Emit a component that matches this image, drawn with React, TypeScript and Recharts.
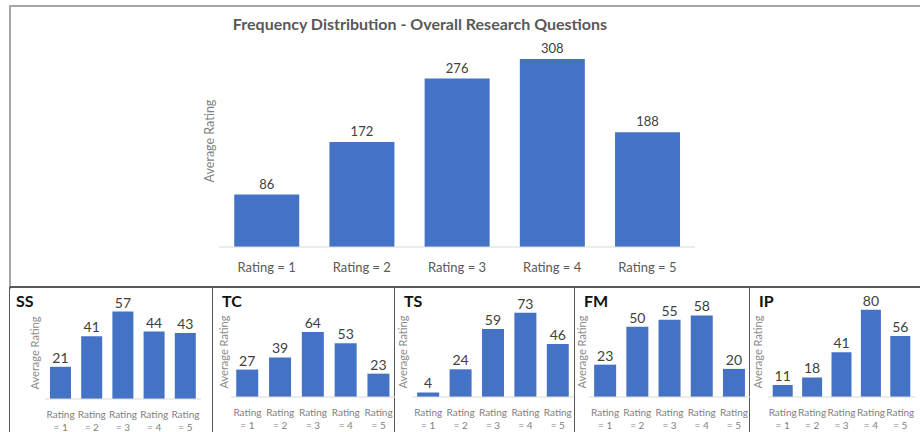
import { BarChart, Bar, XAxis, YAxis, LabelList } from 'recharts';

const RATINGS = ['Rating = 1', 'Rating = 2', 'Rating = 3', 'Rating = 4', 'Rating = 5'];
const OVERALL = [86, 172, 276, 308, 188];

const SS = [21, 41, 57, 44, 43];
const TC = [27, 39, 64, 53, 23];
const TS = [4, 24, 59, 73, 46];
const FM = [23, 50, 55, 58, 20];
const IP = [11, 18, 41, 80, 56];

const BLUE = '#4472C4';
const FONT = 'Lato, "Open Sans", sans-serif';

const toRows = (vals: number[]) => RATINGS.map((name, i) => ({ name, value: vals[i] }));

// panel boxes for the small charts (abs x positions)
const PANELS = [
  { title: 'SS', values: SS, left: 10, right: 213, labelX: 25, plotStart: 35, plotEnd: 191, axisY: 112, max: 60 },
  { title: 'TC', values: TC, left: 213, right: 395, labelX: 11, plotStart: 18, plotEnd: 182, axisY: 110, max: 88.7 },
  { title: 'TS', values: TS, left: 395, right: 575, labelX: 8, plotStart: 17, plotEnd: 179, axisY: 110, max: 78 },
  { title: 'FM', values: FM, left: 575, right: 750, labelX: 7, plotStart: 14, plotEnd: 175, axisY: 110, max: 64 },
  { title: 'IP', values: IP, left: 750, right: 920, labelX: 8, plotStart: 18, plotEnd: 165, axisY: 110, max: 82.6 },
];

function TwoLineTick(props: any) {
  const { x, y, payload } = props;
  const [a, b] = String(payload.value).split(' = ');
  return (
    <g transform={`translate(${x},${y})`}>
      <text x={0} y={11} textAnchor="middle" fontSize={10} fill="#7f7f7f" fontFamily={FONT}>{a}</text>
      <text x={0} y={24} textAnchor="middle" fontSize={10} fill="#7f7f7f" fontFamily={FONT}>= {b}</text>
    </g>
  );
}

function SmallChart({ p }: { p: typeof PANELS[number] }) {
  const w = p.right - p.left;
  const h = 145;
  const yW = 2 * (p.plotStart - p.labelX);
  return (
    <div style={{ position: 'absolute', left: p.left, top: 287, width: w, height: h }}>
      <div style={{ position: 'absolute', left: p.title === 'SS' ? 6 : 9, top: 4, fontFamily: FONT, fontWeight: 700, fontSize: 16, color: '#111' }}>
        {p.title}
      </div>
      <BarChart width={w} height={h} data={toRows(p.values)} barCategoryGap="16%"
        margin={{ top: 20, left: p.plotStart - yW, right: w - p.plotEnd, bottom: h - p.axisY - 30 }}>
        <XAxis dataKey="name" height={30} interval={0} tickLine={false} axisLine={{ stroke: '#d9d9d9' }} tick={<TwoLineTick />} />
        <YAxis width={yW} domain={[0, p.max]} tick={false} axisLine={false} tickLine={false}
          label={{ value: 'Average Rating', angle: -90, position: 'center', fontSize: 11, fill: '#8c8c8c', fontFamily: FONT }} />
        <Bar dataKey="value" fill={BLUE} isAnimationActive={false}>
          <LabelList dataKey="value" position="top" offset={4} fontSize={14} fill="#404040" fontFamily={FONT} />
        </Bar>
      </BarChart>
    </div>
  );
}

export default function App() {
  return (
    <div style={{ position: 'absolute', left: 0, top: 0, width: 920, height: 432, background: '#fff', overflow: 'hidden' }}>
      {/* top panel frame */}
      <div style={{ position: 'absolute', left: 9, top: 5, width: 940, height: 282, borderLeft: '2px solid #a6a6a6', borderTop: '2px solid #a6a6a6' }} />
      <div style={{ position: 'absolute', left: 0, width: 840, top: 14, textAlign: 'center', fontFamily: FONT, fontWeight: 700, fontSize: 16, color: '#595959' }}>
        Frequency Distribution - Overall Research Questions
      </div>
      <div style={{ position: 'absolute', left: 0, top: 0 }}>
        <BarChart width={920} height={287} data={toRows(OVERALL)} barCategoryGap="16%"
          margin={{ top: 59, left: 201, right: 225, bottom: 10 }}>
          <XAxis dataKey="name" height={30} interval={0} tickLine={false} tickMargin={10} axisLine={{ stroke: '#d9d9d9' }}
            tick={{ fontSize: 13, fill: '#595959', fontFamily: FONT }} />
          <YAxis width={18} domain={[0, 308]} tick={false} axisLine={false} tickLine={false}
            label={{ value: 'Average Rating', angle: -90, position: 'center', fontSize: 12.5, fill: '#7f7f7f', fontFamily: FONT, dy: -12 }} />
          <Bar dataKey="value" fill={BLUE} isAnimationActive={false}>
            <LabelList dataKey="value" position="top" offset={6} fontSize={13} fill="#404040" fontFamily={FONT} />
          </Bar>
        </BarChart>
      </div>
      {/* bottom row frame */}
      <div style={{ position: 'absolute', left: 10, top: 286, width: 910, height: 0, borderTop: '2px solid #595959' }} />
      {[10, 213, 395, 575, 750].map(x => (
        <div key={x} style={{ position: 'absolute', left: x - 1, top: 287, width: 0, height: 145, borderLeft: '1.5px solid #595959' }} />
      ))}
      {PANELS.map(p => <SmallChart key={p.title} p={p} />)}
    </div>
  );
}
